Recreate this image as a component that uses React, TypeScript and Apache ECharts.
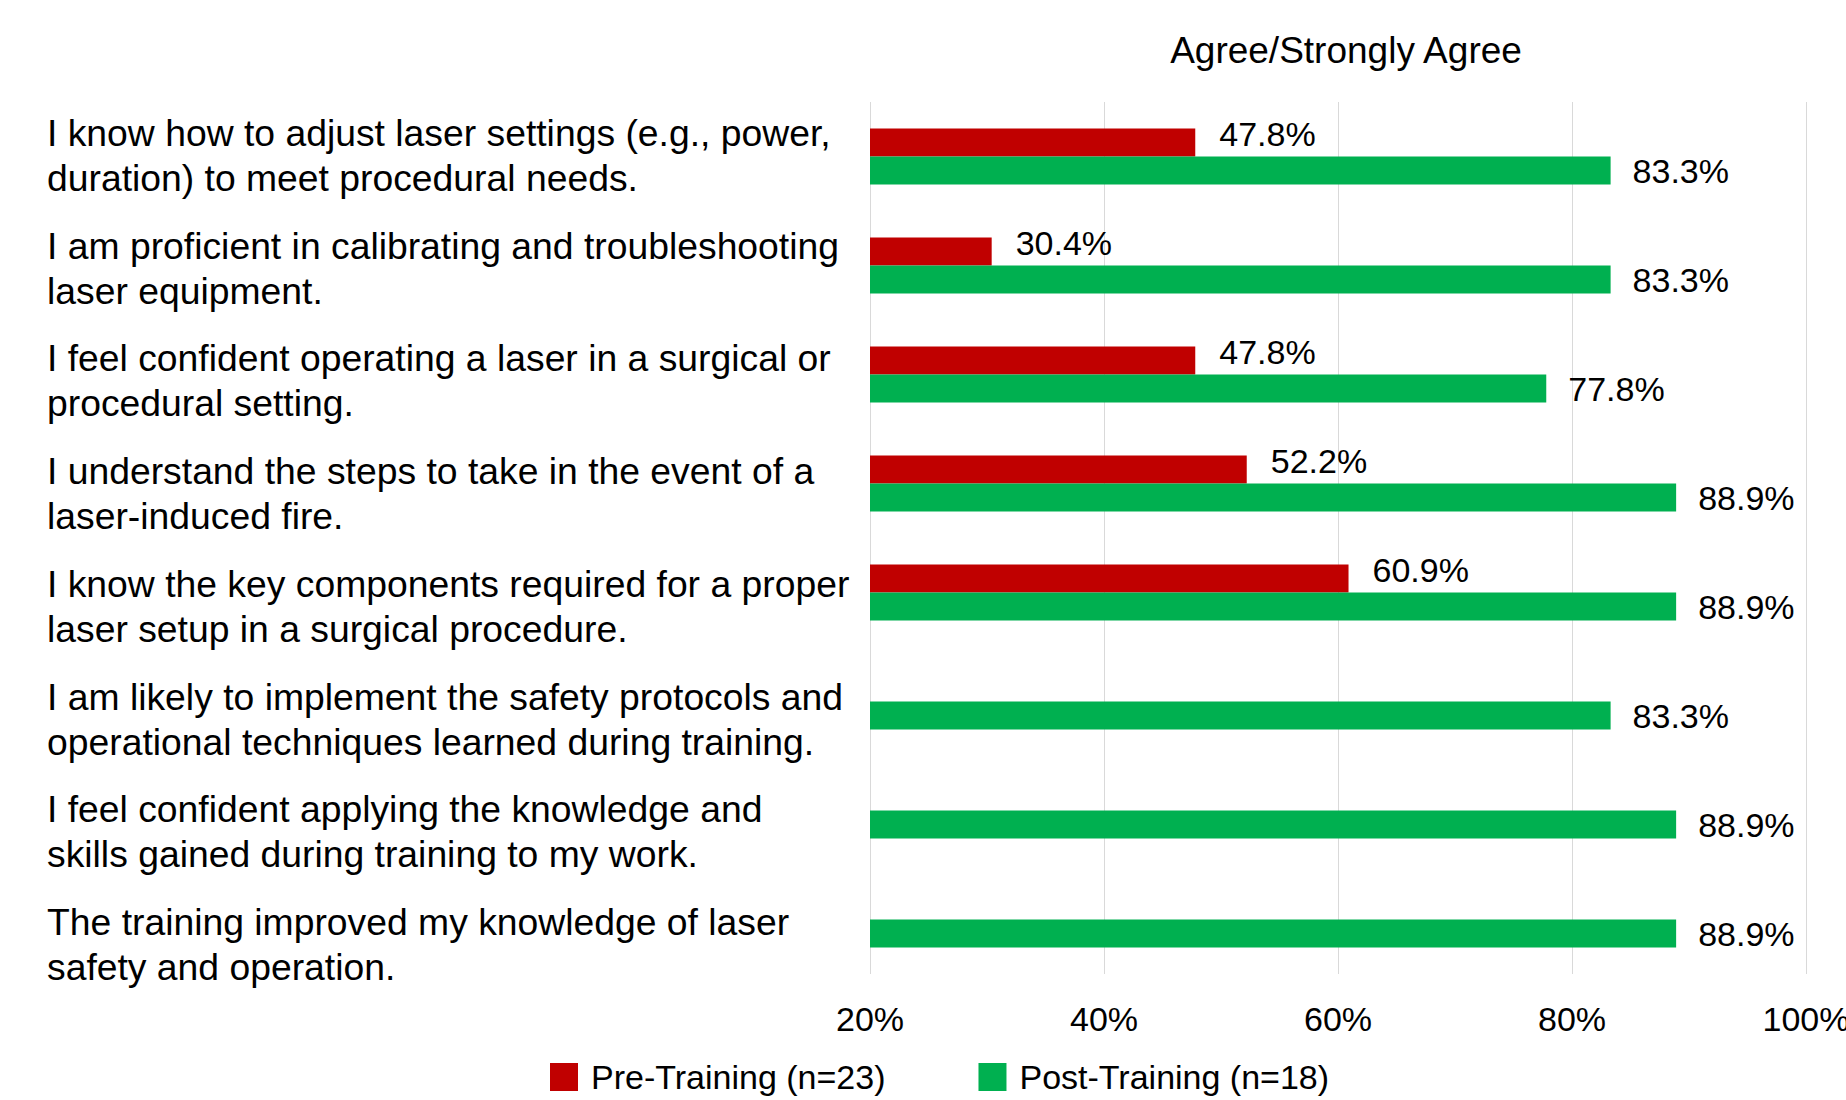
import React, { useEffect, useRef } from "react";
import * as echarts from "echarts";

const categories: string[] = [
  "I know how to adjust laser settings (e.g., power,\nduration) to meet procedural needs.",
  "I am proficient in calibrating and troubleshooting\nlaser equipment.",
  "I feel confident operating a laser in a surgical or\nprocedural setting.",
  "I understand the steps to take in the event of a\nlaser-induced fire.",
  "I know the key components required for a proper\nlaser setup in a surgical procedure.",
  "I am likely to implement the safety protocols and\noperational techniques learned during training.",
  "I feel confident applying the knowledge and\nskills gained during training to my work.",
  "The training improved my knowledge of laser\nsafety and operation.",
];

const preTraining: (number | null)[] = [47.8, 30.4, 47.8, 52.2, 60.9, null, null, null];
const postTraining: number[] = [83.3, 83.3, 77.8, 88.9, 88.9, 83.3, 88.9, 88.9];

const seriesNames = ["Pre-Training (n=23)", "Post-Training (n=18)"];
const chartTitle = "Agree/Strongly Agree";
const axisMin = 20;
const axisMax = 100;
const axisInterval = 20;

const FONT = "'Liberation Sans', Arial, sans-serif";

export default function App() {
  const ref = useRef<HTMLDivElement>(null);
  useEffect(() => {
    if (!ref.current) return;
    const chart = echarts.init(ref.current, undefined, { renderer: "svg" });
    const fmt = (p: any) => (p.value == null ? "" : Number(p.value).toFixed(1) + "%");
    chart.setOption({
      animation: false,
      backgroundColor: "#fff",
      textStyle: { fontFamily: FONT },
      graphic: [
        {
          type: "text",
          x: 1346,
          y: 50,
          style: {
            text: chartTitle,
            fontSize: 37,
            fontFamily: FONT,
            fill: "#000",
            align: "center",
            verticalAlign: "middle",
          },
        },
      ],
      legend: {
        data: seriesNames,
        left: 545,
        top: 1055,
        icon: "rect",
        itemWidth: 28,
        itemHeight: 28,
        itemGap: 93,
        textStyle: { fontSize: 34, fontFamily: FONT, color: "#000", padding: [0, 0, 0, 8] },
      },
      grid: [
        { left: 870, right: 40, top: 102, bottom: 126, outerBoundsMode: "none", containLabel: false },
        { left: 870, right: 40, top: 99, height: 902, outerBoundsMode: "none", containLabel: false },
      ],
      xAxis: [
        {
          type: "value",
          gridIndex: 0,
          min: axisMin,
          max: axisMax,
          interval: axisInterval,
          axisLine: { show: false },
          axisTick: { show: false },
          splitLine: { lineStyle: { color: "#d9d9d9", width: 1 } },
          axisLabel: {
            formatter: "{value}%",
            fontSize: 34,
            fontFamily: FONT,
            color: "#000",
            margin: 28,
          },
        },
        { type: "value", gridIndex: 1, show: false },
      ],
      yAxis: [
        {
          type: "category",
          gridIndex: 0,
          inverse: true,
          data: categories,
          axisLine: { show: false },
          axisTick: { show: false },
          axisLabel: { show: false },
        },
        {
          type: "category",
          gridIndex: 1,
          inverse: true,
          data: categories,
          axisLine: { show: false },
          axisTick: { show: false },
          splitLine: { show: false },
          axisLabel: {
            align: "left",
            margin: 823,
            fontSize: 37.3,
            lineHeight: 45,
            fontFamily: FONT,
            color: "#000",
          },
        },
      ],
      series: [
        {
          name: seriesNames[0],
          type: "bar",
          xAxisIndex: 0,
          yAxisIndex: 0,
          data: preTraining,
          barWidth: 28,
          barGap: "0%",
          clip: true,
          itemStyle: { color: "#C00000" },
          label: {
            show: true,
            position: "right",
            distance: 24,
            offset: [0, -9],
            fontSize: 34,
            fontFamily: FONT,
            color: "#000",
            formatter: fmt,
          },
        },
        {
          name: seriesNames[1],
          type: "bar",
          xAxisIndex: 0,
          yAxisIndex: 0,
          data: postTraining,
          barWidth: 28,
          barGap: "0%",
          clip: true,
          itemStyle: { color: "#00B050" },
          label: {
            show: true,
            position: "right",
            distance: 22,
            fontSize: 34,
            fontFamily: FONT,
            color: "#000",
            formatter: fmt,
          },
        },
      ],
    });
    return () => chart.dispose();
  }, []);
  return (
    <div
      ref={ref}
      style={{ position: "fixed", left: 0, top: 0, width: 1846, height: 1100, background: "#fff" }}
    />
  );
}
